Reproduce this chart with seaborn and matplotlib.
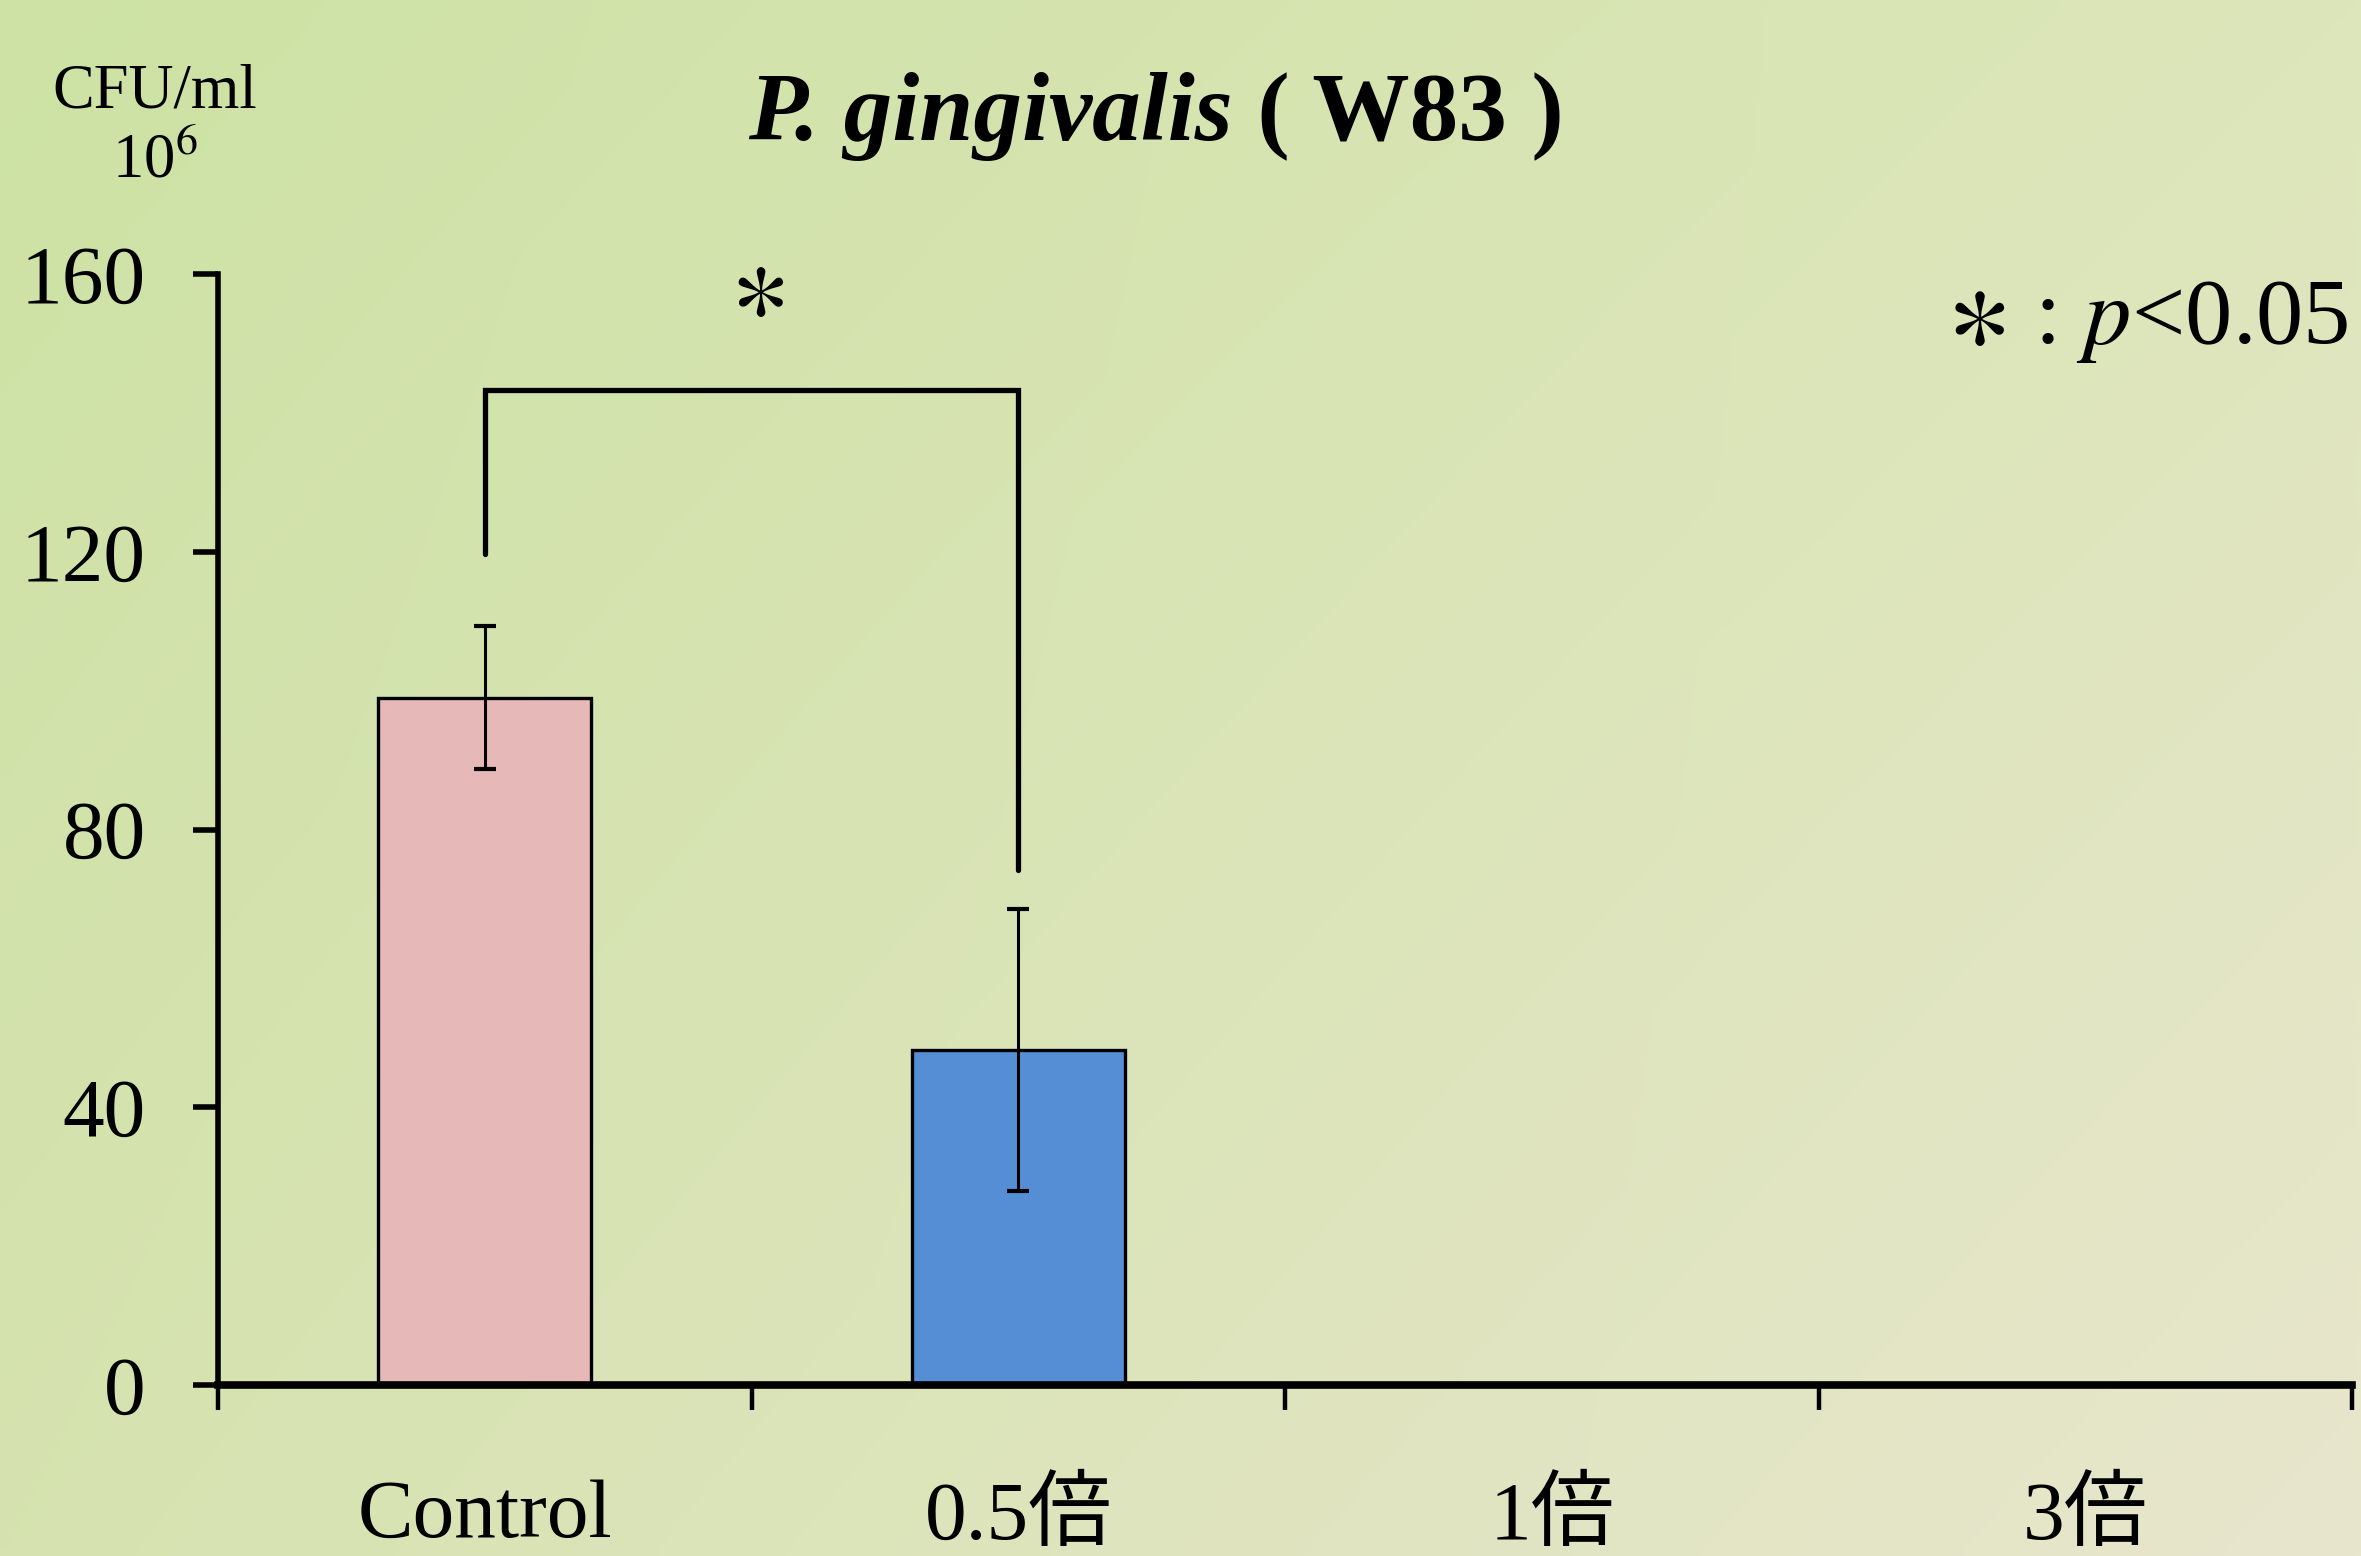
import numpy as np
import pandas as pd
import matplotlib
matplotlib.use("Agg")
import matplotlib.pyplot as plt
import seaborn as sns

# ---- data ----
categories = ["Control", "0.5倍", "1倍", "3倍"]
means = [99.0, 48.3, 0.0, 0.0]
errors = [10.3, 20.3, np.nan, np.nan]
bar_colors = ["#E6B8B7", "#558ED5", "#558ED5", "#558ED5"]
yticks = [0, 40, 80, 120, 160]
title_italic = "P. gingivalis"
title_bold = " ( W83 )"
unit_label = "CFU/ml"
scale_label = r"10$^{6}$"
sig_star = r"$\ast$"
sig_note = r": $p$<0.05"
# significance bracket: (x_left, x_right, y_left_bottom, y_top, y_right_bottom)
bracket = (0, 1, 119.7, 143.3, 74.1)

sns.set_style("ticks")
plt.rcParams["font.family"] = ["Liberation Serif", "Noto Sans CJK JP", "DejaVu Sans"]
plt.rcParams["mathtext.fontset"] = "stix"
plt.rcParams["text.color"] = "black"
plt.rcParams["xtick.color"] = "black"
plt.rcParams["ytick.color"] = "black"
plt.rcParams["axes.labelcolor"] = "black"

W, H = 2361, 1556
fig = plt.figure(figsize=(W / 100, H / 100), dpi=100)
fig.patch.set_facecolor("#d8e4b4")

# background diagonal gradient
bg = fig.add_axes([0, 0, 1, 1], zorder=-10)
tl = np.array([205, 226, 164]) / 255
tr = np.array([221, 230, 186]) / 255
bl = np.array([214, 227, 176]) / 255
br = np.array([232, 230, 205]) / 255
u = np.linspace(0, 1, 200)[None, :, None]
v = np.linspace(0, 1, 140)[:, None, None]
img = (1 - v) * ((1 - u) * tl + u * tr) + v * ((1 - u) * bl + u * br)
bg.imshow(img, aspect="auto", extent=[0, 1, 0, 1], interpolation="bilinear")
bg.axis("off")

ax = fig.add_axes([218 / W, 1 - 1385 / H, (2352 - 218) / W, (1385 - 274) / H])
ax.set_facecolor("none")

df = pd.DataFrame({"group": categories, "value": means})
sns.barplot(data=df, x="group", y="value", hue="group", palette=bar_colors,
            order=categories, width=0.4, edgecolor="black", linewidth=2.4,
            saturation=1, legend=False, ax=ax, errorbar=None)

ax.errorbar(np.arange(len(categories)), means, yerr=errors, fmt="none",
            ecolor="black", elinewidth=2.2, capsize=8, capthick=3, zorder=5)

ax.set_xlim(-0.5, len(categories) - 0.5)
ax.set_ylim(0, 160)
ax.set_yticks(yticks)
ax.set_yticklabels([str(t) for t in yticks])
ax.set_xticks(np.arange(-0.5, len(categories)))
ax.set_xticklabels([])
ax.set_xticks(np.arange(len(categories)), minor=True)
ax.set_xticklabels(categories, minor=True)
ax.set_xlabel("")
ax.set_ylabel("")

ax.tick_params(axis="y", which="major", length=18, width=4, direction="out",
               labelsize=60, pad=34, colors="black")
ax.tick_params(axis="x", which="major", length=18, width=3.2, direction="out", colors="black")
ax.tick_params(axis="x", which="minor", length=0, labelsize=60, pad=68, colors="black")

for s in ["top", "right"]:
    ax.spines[s].set_visible(False)
ax.spines["left"].set_linewidth(4)
ax.spines["bottom"].set_linewidth(5.5)
ax.spines["left"].set_color("black")
ax.spines["bottom"].set_color("black")

# significance bracket
xl, xr, yl, yt, yr = bracket
ax.plot([xl, xl, xr, xr], [yl, yt, yt, yr], color="black", lw=3.8,
        clip_on=False, solid_joinstyle="miter", zorder=6)
ax.text((xl + xr) / 2 + 0.01, 157.5, sig_star, ha="center", va="center",
        fontsize=82, clip_on=False)

# title
t1 = fig.text(0, 0, title_italic, fontsize=70, fontweight="bold", fontstyle="italic",
              ha="left", va="baseline")
t2 = fig.text(0, 0, title_bold, fontsize=70, fontweight="bold", ha="left", va="baseline")
fig.canvas.draw()
r = fig.canvas.get_renderer()
w1 = t1.get_window_extent(r).width
w2 = t2.get_window_extent(r).width
x0 = 1156 - (w1 + w2) / 2
t1.set_position((x0 / W, 1 - 140 / H))
t2.set_position(((x0 + w1) / W, 1 - 140 / H))

# unit labels
fig.text(155 / W, 1 - 108 / H, unit_label, fontsize=45, ha="center", va="baseline")
fig.text(155 / W, 1 - 178 / H, scale_label, fontsize=45, ha="center", va="baseline")

# significance note
fig.text(2349 / W, 1 - 343 / H, sig_note, fontsize=68, ha="right", va="baseline")
fig.text(1976 / W, 1 - 318 / H, sig_star, fontsize=90, ha="center", va="center")

fig.savefig("out.png", dpi=100)
